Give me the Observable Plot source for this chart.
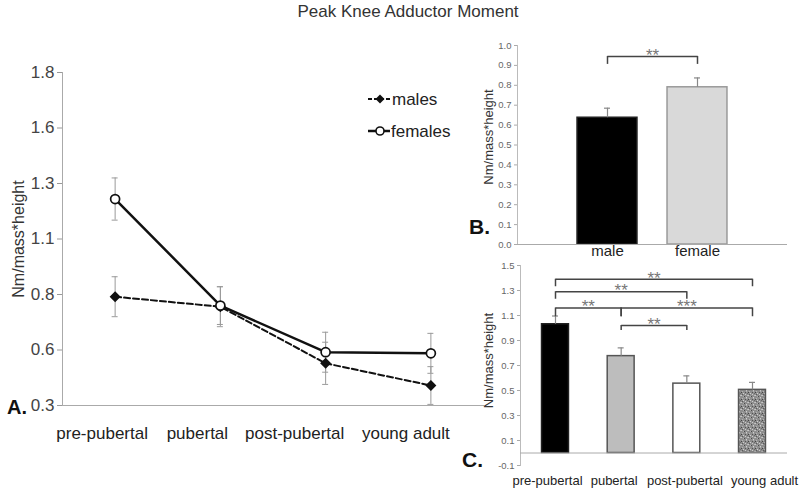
<!DOCTYPE html>
<html><head><meta charset="utf-8">
<script src="https://cdn.jsdelivr.net/npm/d3@7"></script>
<script src="https://cdn.jsdelivr.net/npm/@observablehq/plot@0.6"></script>
<style>
body{margin:0;background:#fff;}
#wrap{position:relative;width:800px;height:490px;font-family:"Liberation Sans",Arial,sans-serif;overflow:hidden;background:#fff;}
.abs{position:absolute;}
.tag{font-weight:bold;color:#111;line-height:1;}
.leg{font-size:17px;color:#222;line-height:1;}
</style></head><body>
<div id="wrap">
  <div id="panelA" class="abs" style="left:0;top:0"></div>
  <div id="panelB" class="abs" style="left:440px;top:30px"></div>
  <div id="panelC" class="abs" style="left:440px;top:255px"></div>
  <div id="title" class="abs" style="left:0;top:3px;width:816px;text-align:center;font-size:17px;color:#333;line-height:1.1"></div>
  <div class="abs tag" style="left:7px;top:397px;font-size:20px">A.</div>
  <div class="abs tag" style="left:469px;top:216px;font-size:21px">B.</div>
  <div class="abs tag" style="left:462px;top:449px;font-size:21px">C.</div>
  <svg class="abs" style="left:360px;top:88px" width="40" height="56">
    <line x1="8" x2="30" y1="11" y2="11" stroke="#111" stroke-width="2" stroke-dasharray="4,2"/>
    <path d="M20,6.5 L24.5,11 L20,15.5 L15.5,11Z" fill="#111"/>
    <line x1="8" x2="30" y1="43" y2="43" stroke="#111" stroke-width="2.5"/>
    <circle cx="20" cy="43" r="4" fill="white" stroke="#111" stroke-width="1.6"/>
  </svg>
  <div id="legM" class="abs leg" style="left:392px;top:91px"></div>
  <div id="legF" class="abs leg" style="left:391px;top:123px"></div>
</div>
<script>
// ---------- data ----------
const chartTitle = "Peak Knee Adductor Moment";
const yLabel = "Nm/mass*height";
const groups = ["pre-pubertal", "pubertal", "post-pubertal", "young adult"];
const seriesNames = ["males", "females"];
const malesMean = [0.79, 0.745, 0.49, 0.39];
const malesSE = [0.09, 0.09, 0.095, 0.085];
const femalesMean = [1.23, 0.75, 0.54, 0.535];
const femalesSE = [0.095, 0.085, 0.09, 0.09];
const yTicksA = [0.3, 0.55, 0.8, 1.05, 1.3, 1.55, 1.8];
const yTickLabelsA = ["0.3", "0.6", "0.8", "1.1", "1.3", "1.6", "1.8"];

const sexes = ["male", "female"];
const sexMean = [0.637, 0.79];
const sexSE = [0.048, 0.047];
const yTicksB = [0, 0.1, 0.2, 0.3, 0.4, 0.5, 0.6, 0.7, 0.8, 0.9, 1.0];
const sigB = [{a: "male", b: "female", top: 0.945, foot: 0.905, label: "**"}];

const stageMean = [1.03, 0.775, 0.555, 0.505];
const stageSE = [0.066, 0.066, 0.062, 0.06];
const yTicksC = [-0.1, 0.1, 0.3, 0.5, 0.7, 0.9, 1.1, 1.3, 1.5];
const sigC = [
  {a: "pre-pubertal", b: "young adult", top: 1.39, foot: 1.33, label: "**"},
  {a: "pre-pubertal", b: "post-pubertal", top: 1.29, foot: 1.23, label: "**"},
  {a: "pre-pubertal", b: "pubertal", top: 1.16, foot: 1.09, label: "**"},
  {a: "pubertal", b: "young adult", top: 1.16, foot: 1.09, label: "***"},
  {a: "pubertal", b: "post-pubertal", top: 1.02, foot: 0.98, label: "**"}
];

// ---------- styles ----------
const fontFam = '"Liberation Sans", Arial, sans-serif';
const baseStyle = {background: "transparent", overflow: "visible", maxWidth: "none", fontFamily: fontFam};
const fillsB = ["#000000", "#d9d9d9"];
const strokesB = ["#222222", "#9a9a9a"];
const fillsC = ["#000000", "#bdbdbd", "#ffffff", "url(#speckle)"];
const strokesC = ["#222222", "#555555", "#555555", "#555555"];
const labelDxA = [-13, -23, -31, -25];
const labelDxC = [-8, -7, -2, 12];

document.getElementById("title").textContent = chartTitle;
document.getElementById("legM").textContent = seriesNames[0];
document.getElementById("legF").textContent = seriesNames[1];

// ---------- panel A ----------
const males = groups.map((g, i) => ({g, i, m: malesMean[i], se: malesSE[i]}));
const females = groups.map((g, i) => ({g, i, m: femalesMean[i], se: femalesSE[i]}));
const rowsA = males.concat(females);
const errColA = "#9a9a9a";
const plotA = Plot.plot({
  width: 500, height: 460,
  marginLeft: 62, marginRight: 17, marginTop: 72, marginBottom: 55,
  style: baseStyle,
  x: {domain: [-0.5, 3.5], axis: null},
  y: {domain: [0.3, 1.8]},
  marks: [
    Plot.axisY({ticks: yTicksA, tickFormat: d => yTickLabelsA[yTicksA.indexOf(d)], tickSize: 5, tickPadding: 3,
      fontSize: 17, fill: "#444", stroke: "#999", label: null}),
    Plot.frame({anchor: "left", stroke: "#aaa"}),
    Plot.frame({anchor: "bottom", stroke: "#aaa"}),
    Plot.ruleX(rowsA, {x: "i", y1: d => d.m - d.se, y2: d => d.m + d.se, stroke: errColA, strokeWidth: 1}),
    Plot.ruleY(rowsA, {y: d => d.m + d.se, x1: "i", x2: "i", insetLeft: -3, insetRight: -3, stroke: errColA}),
    Plot.ruleY(rowsA, {y: d => d.m - d.se, x1: "i", x2: "i", insetLeft: -3, insetRight: -3, stroke: errColA}),
    Plot.line(males, {x: "i", y: "m", stroke: "#111", strokeWidth: 2, strokeDasharray: "6,3"}),
    Plot.line(females, {x: "i", y: "m", stroke: "#111", strokeWidth: 2.5}),
    Plot.dot(males, {x: "i", y: "m", symbol: "diamond2", r: 4, fill: "#111", stroke: "#111"}),
    Plot.dot(females, {x: "i", y: "m", r: 4.5, fill: "white", stroke: "#111", strokeWidth: 1.7}),
    ...groups.map((g, i) => Plot.text([g], {x: [i], frameAnchor: "bottom", lineAnchor: "middle", dy: 28, dx: labelDxA[i], fontSize: 17, fill: "#222"})),
    Plot.text([yLabel], {frameAnchor: "left", textAnchor: "middle", rotate: -90, dx: -44, fontSize: 16, fill: "#333"})
  ]
});
document.getElementById("panelA").appendChild(plotA);

// ---------- panel B ----------
const rowsB = sexes.map((s, i) => ({s, i, m: sexMean[i], se: sexSE[i]}));
const idxB = s => sexes.indexOf(s);
const plotB = Plot.plot({
  width: 360, height: 230,
  marginLeft: 77, marginRight: 13, marginTop: 15, marginBottom: 16,
  style: baseStyle,
  x: {domain: [-1, 2], axis: null},
  y: {domain: [0, 1]},
  color: {type: "identity"},
  marks: [
    Plot.axisY({ticks: yTicksB, tickFormat: d => d.toFixed(1), tickSize: 3, tickPadding: 3, fontSize: 9.5,
      fill: "#666", stroke: "#aaa", label: null}),
    Plot.frame({anchor: "left", stroke: "#bbb"}),
    Plot.rect(rowsB, {x1: d => d.i - 0.333, x2: d => d.i + 0.333, y1: 0, y2: "m",
      fill: (d, i) => fillsB[i], stroke: (d, i) => strokesB[i], strokeWidth: 1.5}),
    Plot.ruleY([0], {stroke: "#aaa"}),
    Plot.ruleX(rowsB, {x: "i", y1: "m", y2: d => d.m + d.se, stroke: "#888", strokeWidth: 1.2}),
    Plot.ruleY(rowsB, {y: d => d.m + d.se, x1: "i", x2: "i", insetLeft: -3, insetRight: -3, stroke: "#888", strokeWidth: 1.2}),
    Plot.link(sigB, {x1: d => idxB(d.a), x2: d => idxB(d.b), y1: "top", y2: "top", stroke: "#444", strokeWidth: 1.5}),
    Plot.ruleX(sigB, {x: d => idxB(d.a), y1: "foot", y2: "top", stroke: "#444", strokeWidth: 1.5}),
    Plot.ruleX(sigB, {x: d => idxB(d.b), y1: "foot", y2: "top", stroke: "#444", strokeWidth: 1.5}),
    Plot.text(sigB, {x: d => (idxB(d.a) + idxB(d.b)) / 2, y: "top", text: "label", dy: -1, fontSize: 17, fill: "#777"}),
    ...sexes.map((s, i) => Plot.text([s], {x: [i], frameAnchor: "bottom", lineAnchor: "middle", dy: 7, fontSize: 15, fill: "#222"})),
    Plot.text([yLabel], {frameAnchor: "left", textAnchor: "middle", rotate: -90, dx: -29, dy: -8, fontSize: 13, fill: "#333"})
  ]
});
document.getElementById("panelB").appendChild(plotB);

// ---------- panel C ----------
const rowsC = groups.map((g, i) => ({g, i, m: stageMean[i], se: stageSE[i]}));
const idxC = g => groups.indexOf(g);
const plotC = Plot.plot({
  width: 360, height: 235,
  marginLeft: 80, marginRight: 13, marginTop: 10, marginBottom: 25,
  style: baseStyle,
  x: {domain: [-0.533, 3.533], axis: null},
  y: {domain: [-0.1, 1.5]},
  color: {type: "identity"},
  marks: [
    Plot.axisY({ticks: yTicksC, tickFormat: d => d.toFixed(1), tickSize: 3, tickPadding: 3, fontSize: 9.5,
      fill: "#666", stroke: "#aaa", label: null}),
    Plot.frame({anchor: "left", stroke: "#bbb"}),
    Plot.rect(rowsC, {x1: d => d.i - 0.205, x2: d => d.i + 0.205, y1: 0, y2: "m",
      fill: (d, i) => fillsC[i], stroke: (d, i) => strokesC[i], strokeWidth: 1.5}),
    Plot.ruleY([0], {stroke: "#aaa"}),
    Plot.ruleX(rowsC, {x: "i", y1: "m", y2: d => d.m + d.se, stroke: "#888", strokeWidth: 1.2}),
    Plot.ruleY(rowsC, {y: d => d.m + d.se, x1: "i", x2: "i", insetLeft: -3, insetRight: -3, stroke: "#888", strokeWidth: 1.2}),
    Plot.link(sigC, {x1: d => idxC(d.a), x2: d => idxC(d.b), y1: "top", y2: "top", stroke: "#444", strokeWidth: 1.5}),
    Plot.ruleX(sigC, {x: d => idxC(d.a), y1: "foot", y2: "top", stroke: "#444", strokeWidth: 1.5}),
    Plot.ruleX(sigC, {x: d => idxC(d.b), y1: "foot", y2: "top", stroke: "#444", strokeWidth: 1.5}),
    Plot.text(sigC, {x: d => (idxC(d.a) + idxC(d.b)) / 2, y: "top", text: "label", dy: -1, fontSize: 17, fill: "#777"}),
    ...groups.map((g, i) => Plot.text([g], {x: [i], frameAnchor: "bottom", lineAnchor: "middle", dy: 15, dx: labelDxC[i], fontSize: 13, fill: "#222"})),
    Plot.text([yLabel], {frameAnchor: "left", textAnchor: "middle", rotate: -90, dx: -32, dy: -5, fontSize: 13, fill: "#333"})
  ]
});
// speckled texture for the last bar
const defs = d3.select(plotC).insert("defs", ":first-child");
const pat = defs.append("pattern").attr("id", "speckle").attr("patternUnits", "userSpaceOnUse")
  .attr("width", 7).attr("height", 7);
pat.append("rect").attr("width", 7).attr("height", 7).attr("fill", "#8e8e8e");
[[0,0,"#c8c8c8"],[3,1,"#4a4a4a"],[5,2,"#d0d0d0"],[1,3,"#b5b5b5"],[4,4,"#555"],[2,5,"#cfcfcf"],[6,5,"#6a6a6a"],[0,4,"#444"],[2,1,"#aaa"],[6,0,"#bbb"],[4,6,"#ccc"],[1,6,"#5a5a5a"],[5,3,"#b0b0b0"]]
  .forEach(([x, y, c]) => pat.append("rect").attr("x", x).attr("y", y).attr("width", 1).attr("height", 1).attr("fill", c));
document.getElementById("panelC").appendChild(plotC);
</script>
</body></html>
